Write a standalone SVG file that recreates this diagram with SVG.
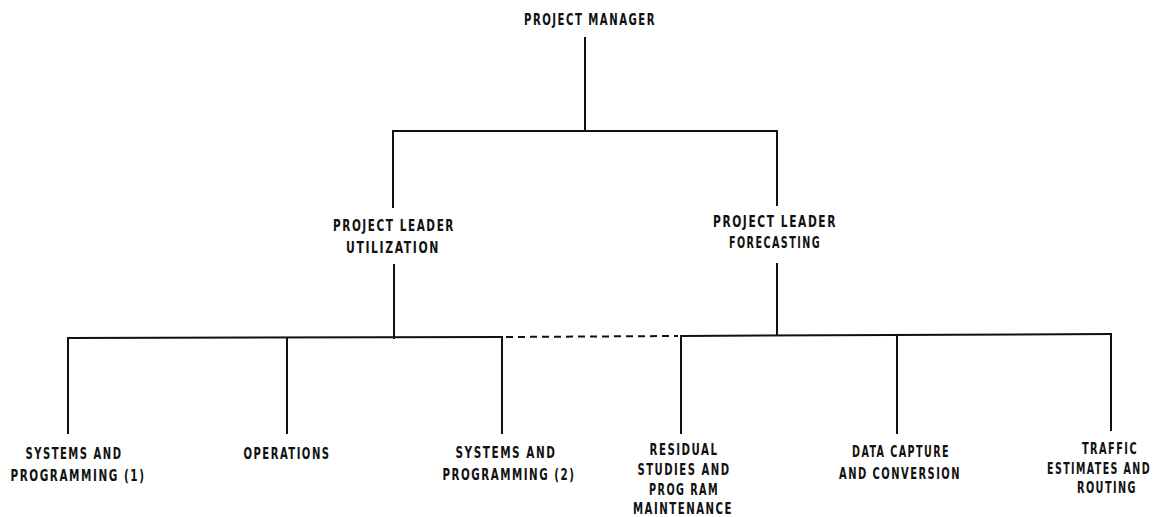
<svg xmlns="http://www.w3.org/2000/svg" width="1164" height="517" viewBox="0 0 1164 517">
<style>
  .bg { fill: #ffffff; }
  .lbl { font-family: "DejaVu Sans Condensed", "Liberation Sans Narrow", "Liberation Sans", sans-serif; font-stretch: condensed; font-weight: bold; font-size: 15px; letter-spacing: 2px; fill: #111111; text-anchor: middle; }
  .ln { stroke: #111111; stroke-width: 2; fill: none; stroke-linecap: square; }
  .dash { stroke: #111111; stroke-width: 2; fill: none; stroke-dasharray: 7 5; }
</style>
<rect class="bg" x="0" y="0" width="1164" height="517"/>
<g id="connectors">
  <line class="ln" x1="585" y1="38" x2="585" y2="131"/>
  <line class="ln" x1="393" y1="131" x2="777" y2="131"/>
  <line class="ln" x1="393" y1="131" x2="393" y2="207"/>
  <line class="ln" x1="777" y1="131" x2="777" y2="205"/>
  <line class="ln" x1="394" y1="265" x2="394" y2="338"/>
  <line class="ln" x1="777" y1="264" x2="777" y2="335"/>
  <line class="ln" x1="68" y1="338" x2="502" y2="337"/>
  <line class="dash" x1="506" y1="337" x2="678" y2="336"/>
  <line class="ln" x1="681" y1="336" x2="1111" y2="334"/>
  <line class="ln" x1="68" y1="338" x2="68" y2="433"/>
  <line class="ln" x1="287" y1="338" x2="287" y2="433"/>
  <line class="ln" x1="502" y1="337" x2="502" y2="433"/>
  <line class="ln" x1="681" y1="336" x2="681" y2="433"/>
  <line class="ln" x1="897" y1="335" x2="897" y2="433"/>
  <line class="ln" x1="1111" y1="334" x2="1111" y2="430"/>
</g>
<g id="project-manager">
  <text class="lbl" x="590" y="25" textLength="132" lengthAdjust="spacingAndGlyphs">PROJECT MANAGER</text>
</g>
<g id="leader-utilization">
  <text class="lbl" x="394" y="231" textLength="122" lengthAdjust="spacingAndGlyphs">PROJECT LEADER</text>
  <text class="lbl" x="393" y="253" textLength="94" lengthAdjust="spacingAndGlyphs">UTILIZATION</text>
</g>
<g id="leader-forecasting">
  <text class="lbl" x="775" y="227" textLength="124" lengthAdjust="spacingAndGlyphs">PROJECT LEADER</text>
  <text class="lbl" x="775" y="248" textLength="92" lengthAdjust="spacingAndGlyphs">FORECASTING</text>
</g>
<g id="systems-programming-1">
  <text class="lbl" x="74" y="459" textLength="97" lengthAdjust="spacingAndGlyphs">SYSTEMS AND</text>
  <text class="lbl" x="78" y="481" textLength="135" lengthAdjust="spacingAndGlyphs">PROGRAMMING (1)</text>
</g>
<g id="operations">
  <text class="lbl" x="287" y="459" textLength="87" lengthAdjust="spacingAndGlyphs">OPERATIONS</text>
</g>
<g id="systems-programming-2">
  <text class="lbl" x="506" y="458" textLength="101" lengthAdjust="spacingAndGlyphs">SYSTEMS AND</text>
  <text class="lbl" x="509" y="480" textLength="133" lengthAdjust="spacingAndGlyphs">PROGRAMMING (2)</text>
</g>
<g id="residual-studies">
  <text class="lbl" x="684" y="455" textLength="69" lengthAdjust="spacingAndGlyphs">RESIDUAL</text>
  <text class="lbl" x="684" y="475" textLength="93" lengthAdjust="spacingAndGlyphs">STUDIES AND</text>
  <text class="lbl" x="684" y="495" textLength="70" lengthAdjust="spacingAndGlyphs">PROG RAM</text>
  <text class="lbl" x="683" y="514" textLength="100" lengthAdjust="spacingAndGlyphs">MAINTENANCE</text>
</g>
<g id="data-capture">
  <text class="lbl" x="901" y="457" textLength="98" lengthAdjust="spacingAndGlyphs">DATA CAPTURE</text>
  <text class="lbl" x="900" y="479" textLength="122" lengthAdjust="spacingAndGlyphs">AND CONVERSION</text>
</g>
<g id="traffic-estimates">
  <text class="lbl" x="1110" y="454" textLength="56" lengthAdjust="spacingAndGlyphs">TRAFFIC</text>
  <text class="lbl" x="1099" y="474" textLength="104" lengthAdjust="spacingAndGlyphs">ESTIMATES AND</text>
  <text class="lbl" x="1107" y="493" textLength="60" lengthAdjust="spacingAndGlyphs">ROUTING</text>
</g>
</svg>
